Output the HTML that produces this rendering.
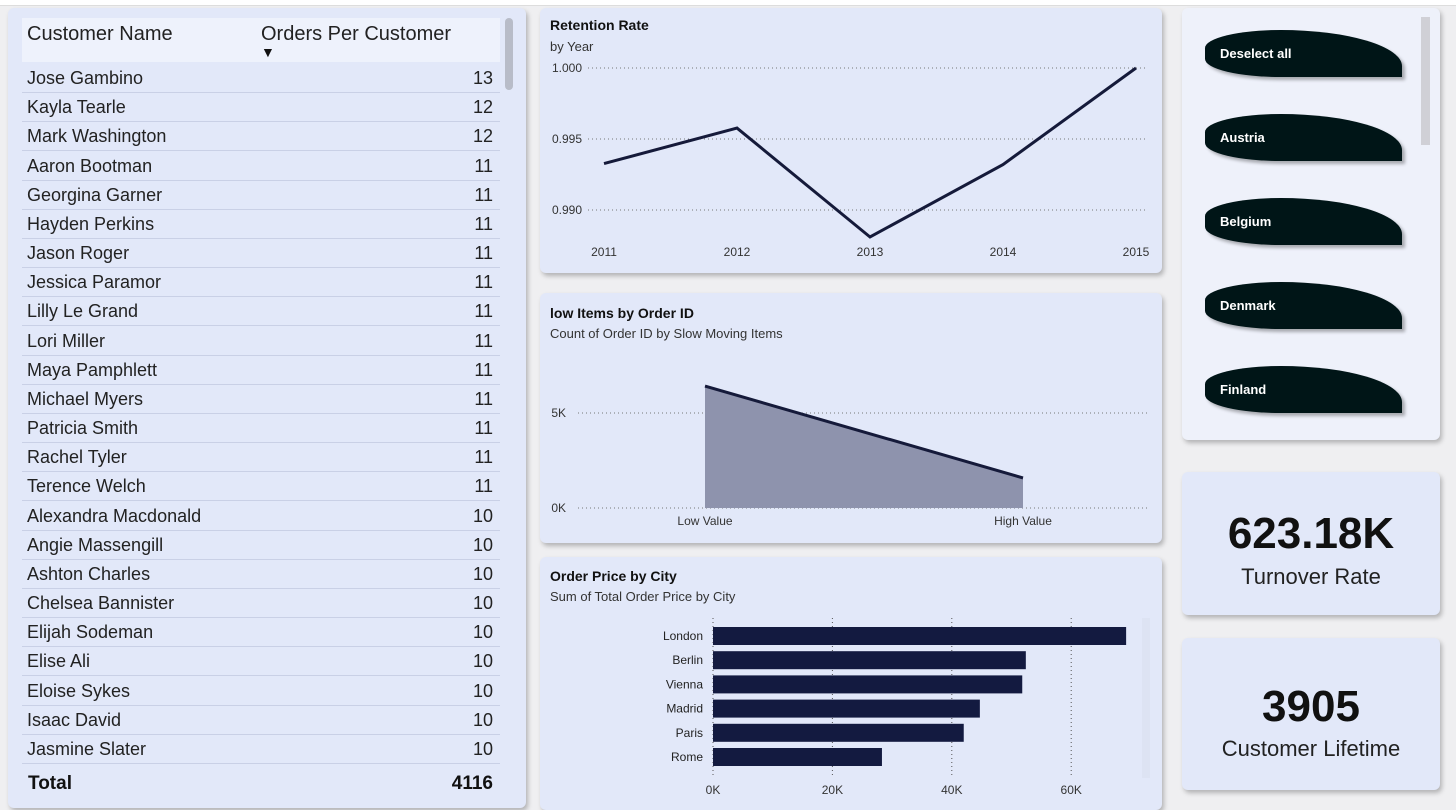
<!DOCTYPE html>
<html><head><meta charset="utf-8"><style>
body{margin:0;width:1456px;height:810px;overflow:hidden;background:#efeff1;font-family:"Liberation Sans",sans-serif;position:relative}
.p{position:absolute;background:#e2e8f9;border-radius:6px;box-shadow:2px 3px 5px rgba(0,0,0,.25)}
.row{position:absolute;left:22px;width:478px;height:29px;border-bottom:1px solid #c9d0e6;font-size:18px;color:#222}
.row span{position:absolute;top:5px}
.t{position:absolute;font-size:14px;font-weight:bold;color:#111}
.s{position:absolute;font-size:13px;color:#333}
.btn{position:absolute;left:1205px;width:197px;height:47px;background:#001517;border-radius:50% 80% 0 50% / 50% 100% 0 50%;box-shadow:3px 3px 3px rgba(0,0,0,.3);color:#fff;font-size:13px;font-weight:bold}
.btn span{position:absolute;left:15px;top:16px}
</style></head><body>
<div style="position:absolute;left:0;top:0;width:1456px;height:5px;background:#fff;border-bottom:1px solid #ddd"></div>

<div class="p" style="left:8px;top:8px;width:518px;height:800px">
</div>
<div style="position:absolute;left:22px;top:18px;width:478px;height:44px;background:#eef2fc">
<span style="position:absolute;left:5px;top:5px;font-size:20px;color:#222">Customer Name</span>
<span style="position:absolute;left:239px;top:5px;font-size:20px;color:#222">Orders Per Customer</span>
<span style="position:absolute;left:239px;top:26px;font-size:14px;color:#111">▼</span>
</div>
<div style="position:absolute;left:505px;top:18px;width:8px;height:72px;background:#b8bcc8;border-radius:4px"></div>
<div id="rows"></div>
<div style="position:absolute;left:22px;top:773px;width:478px;font-size:19px;font-weight:bold;color:#111"><span style="position:absolute;left:6px">Total</span><span style="position:absolute;right:7px">4116</span></div>

<div class="p" style="left:540px;top:8px;width:622px;height:265px"></div>
<div class="t" style="left:550px;top:17px">Retention Rate</div>
<div class="s" style="left:550px;top:39px">by Year</div>
<svg id="ret" style="position:absolute;left:0;top:0" width="1456" height="810"></svg>

<div class="p" style="left:540px;top:293px;width:622px;height:250px"></div>
<div class="t" style="left:550px;top:305px">low Items by Order ID</div>
<div class="s" style="left:550px;top:326px">Count of Order ID by Slow Moving Items</div>
<svg id="area" style="position:absolute;left:0;top:0" width="1456" height="810"></svg>

<div class="p" style="left:540px;top:557px;width:622px;height:253px"></div>
<div class="t" style="left:550px;top:568px">Order Price by City</div>
<div class="s" style="left:550px;top:589px">Sum of Total Order Price by City</div>
<div style="position:absolute;left:1142px;top:618px;width:8px;height:160px;background:#dde3f3"></div>
<svg id="bar" style="position:absolute;left:0;top:0" width="1456" height="810"></svg>

<div class="p" style="left:1182px;top:8px;width:258px;height:432px;background:#eef1fa"></div>
<div style="position:absolute;left:1421px;top:17px;width:9px;height:128px;background:#d0d0d6"></div>
<div class="btn" style="top:30px"><span>Deselect all</span></div>
<div class="btn" style="top:114px"><span>Austria</span></div>
<div class="btn" style="top:198px"><span>Belgium</span></div>
<div class="btn" style="top:282px"><span>Denmark</span></div>
<div class="btn" style="top:366px"><span>Finland</span></div>

<div class="p" style="left:1182px;top:472px;width:258px;height:143px;text-align:center">
<div style="margin-top:37px;font-size:44px;font-weight:bold;color:#111">623.18K</div>
<div style="font-size:22px;color:#222;margin-top:5px">Turnover Rate</div></div>
<div class="p" style="left:1182px;top:638px;width:258px;height:152px;text-align:center">
<div style="margin-top:44px;font-size:44px;font-weight:bold;color:#111">3905</div>
<div style="font-size:22px;color:#222;margin-top:4px">Customer Lifetime</div></div>

<script>
const names=["Jose Gambino","Kayla Tearle","Mark Washington","Aaron Bootman","Georgina Garner","Hayden Perkins","Jason Roger","Jessica Paramor","Lilly Le Grand","Lori Miller","Maya Pamphlett","Michael Myers","Patricia Smith","Rachel Tyler","Terence Welch","Alexandra Macdonald","Angie Massengill","Ashton Charles","Chelsea Bannister","Elijah Sodeman","Elise Ali","Eloise Sykes","Isaac David","Jasmine Slater"];
const orders=[13,12,12,11,11,11,11,11,11,11,11,11,11,11,11,10,10,10,10,10,10,10,10,10];
const years=["2011","2012","2013","2014","2015"];
const retention=[0.99327,0.99577,0.9881,0.9932,1.000];
const retTicks=[0.990,0.995,1.000];
const slowCats=["Low Value","High Value"];
const slowCounts=[6420,1580];
const slowTicks=[0,5000];
const cities=["London","Berlin","Vienna","Madrid","Paris","Rome"];
const cityPrice=[69200,52400,51800,44700,42000,28300];
const cityTicks=[0,20000,40000,60000];
const NS="http://www.w3.org/2000/svg";
function mk(svg,tag,at,txt){const e=document.createElementNS(NS,tag);for(const k in at)e.setAttribute(k,at[k]);if(txt!==undefined)e.textContent=txt;svg.appendChild(e);return e;}
const R=document.getElementById('rows');
names.forEach((n,i)=>{const d=document.createElement('div');d.className='row';d.style.top=(63+i*29.17)+'px';


d.innerHTML='<span style="left:5px">'+n+'</span><span style="right:7px">'+orders[i]+'</span>';R.appendChild(d);});
const s1=document.getElementById('ret');
const rx=i=>604+i*(1136-604)/(years.length-1), ry=v=>68+(1-v)/0.005*71;
retTicks.forEach(t=>{mk(s1,'line',{x1:588,x2:1148,y1:ry(t),y2:ry(t),stroke:'#777','stroke-dasharray':'1 3'});
const l=mk(s1,'text',{x:582,y:ry(t)+4,'text-anchor':'end','font-size':12,fill:'#333'},t.toFixed(3));

});
years.forEach((y,i)=>{const l=mk(s1,'text',{x:rx(i),y:256,'text-anchor':'middle','font-size':12,fill:'#333'},y);

});
const ln=mk(s1,'polyline',{points:retention.map((v,i)=>rx(i)+','+ry(v)).join(' '),fill:'none',stroke:'#151a3a','stroke-width':3});


const s2=document.getElementById('area');
const ax=i=>705+i*(1023-705), ay=v=>508-v/5000*95;
slowTicks.forEach(t=>{mk(s2,'line',{x1:578,x2:1150,y1:ay(t),y2:ay(t),stroke:'#777','stroke-dasharray':'1 3'});
const l=mk(s2,'text',{x:566,y:ay(t)+4,'text-anchor':'end','font-size':12,fill:'#333'},(t/1000)+'K');

});
const ar=mk(s2,'polygon',{points:ax(0)+','+ay(0)+' '+slowCounts.map((v,i)=>ax(i)+','+ay(v)).join(' ')+' '+ax(1)+','+ay(0),fill:'#8e93ad'});


const al=mk(s2,'polyline',{points:slowCounts.map((v,i)=>ax(i)+','+ay(v)).join(' '),fill:'none',stroke:'#151a3a','stroke-width':3});


slowCats.forEach((c,i)=>{const l=mk(s2,'text',{x:ax(i),y:525,'text-anchor':'middle','font-size':12,fill:'#333'},c);

});
const s3=document.getElementById('bar');
const bx=v=>713+v/1000*5.97, by=i=>627+i*24.2;
cityTicks.forEach(t=>{mk(s3,'line',{x1:bx(t),x2:bx(t),y1:618,y2:776,stroke:'#555','stroke-dasharray':'1 3'});
const l=mk(s3,'text',{x:bx(t),y:794,'text-anchor':'middle','font-size':12,fill:'#333'},(t/1000)+'K');

});
cities.forEach((c,i)=>{const r=mk(s3,'rect',{x:bx(0),y:by(i),width:bx(cityPrice[i])-bx(0),height:18,fill:'#131a40'});


const l=mk(s3,'text',{x:703,y:by(i)+13,'text-anchor':'end','font-size':12,fill:'#222'},c);

});
</script>
</body></html>
